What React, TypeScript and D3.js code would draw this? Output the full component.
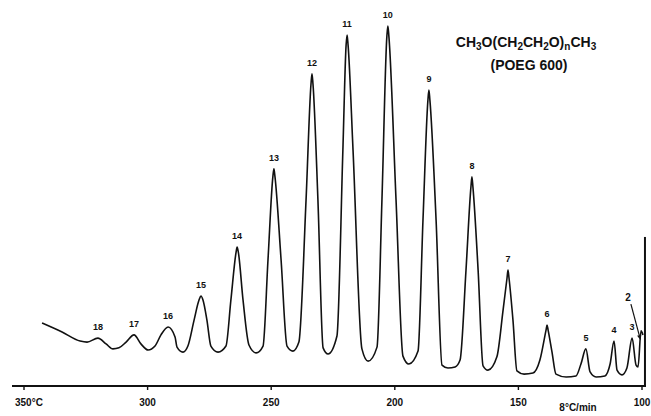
import React from "react";
import * as d3 from "d3";

const W = 651;
const H = 416;

// Chromatogram trace: column temperature (°C, programmed at 8 °C/min) and detector response
const traceTemp = [
  342.7, 334.6, 327.3, 324.5, 320.1, 316.8, 314.0, 311.6, 308.7, 305.5,
  302.7, 299.8, 297.0, 294.6, 291.7, 288.9, 288.1, 285.7, 283.7, 281.2,
  279.2, 278.4, 277.6, 276.0, 274.4, 271.5, 268.3, 266.3, 264.2, 263.8,
  263.3, 261.4, 259.0, 256.1, 253.3, 251.3, 249.3, 248.9, 248.5, 246.0,
  243.6, 241.2, 238.8, 235.9, 233.9, 233.5, 233.1, 231.1, 229.0, 227.0,
  223.4, 221.0, 219.7, 219.3, 218.9, 216.9, 213.3, 210.8, 207.2, 205.2,
  203.2, 202.8, 202.4, 199.5, 196.7, 194.3, 190.6, 188.6, 186.6, 186.2,
  185.8, 183.3, 180.9, 178.5, 175.6, 173.6, 171.2, 169.2, 168.8, 168.4,
  166.3, 164.3, 162.3, 158.7, 156.2, 154.6, 154.2, 153.8, 152.2, 150.6,
  147.7, 144.1, 141.3, 138.8, 138.4, 138.0, 136.4, 134.8, 130.7, 126.7,
  124.7, 122.7, 121.0, 118.6, 115.0, 112.9, 111.3, 110.1, 108.1, 106.1,
  104.0, 102.4, 101.6, 100.4, 99.6,
];
const traceSignal = [
  17.5, 15.0, 12.5, 12.2, 13.3, 11.7, 10.3, 10.6, 12.2, 14.2,
  11.7, 10.0, 11.1, 14.2, 16.4, 13.6, 10.8, 9.4, 11.1, 18.3,
  23.9, 25.0, 23.9, 18.3, 11.1, 9.4, 11.1, 23.9, 37.2, 38.6,
  37.2, 23.9, 11.4, 9.2, 11.1, 35.0, 58.3, 60.3, 58.3, 35.0,
  11.1, 9.7, 12.2, 51.7, 83.9, 86.7, 83.9, 51.7, 10.6, 8.9,
  13.9, 65.6, 94.7, 97.5, 94.7, 65.6, 10.3, 6.9, 10.8, 51.7,
  97.2, 100.0, 97.2, 51.7, 8.3, 6.1, 9.7, 46.1, 79.4, 82.2,
  79.4, 46.1, 5.8, 5.0, 5.3, 7.2, 32.2, 55.3, 58.1, 55.3,
  32.2, 5.6, 4.4, 8.1, 21.1, 30.0, 32.2, 30.0, 18.3, 4.2,
  3.3, 3.6, 7.2, 15.6, 16.9, 15.6, 9.4, 3.3, 2.5, 2.8,
  6.1, 10.3, 3.9, 2.5, 2.8, 6.1, 12.5, 4.4, 3.1, 5.0,
  13.3, 5.8, 5.3, 15.3, 14.2,
];

// Solvent front at the start of the run
const solventTemp = 98.8;
const solventSignal = 41.4;

// Oligomer peaks (n = number of ethylene oxide units)
const peakNumber = [18, 17, 16, 15, 14, 13, 12, 11, 10, 9, 8, 7, 6, 5, 4, 3];
const peakTemp = [320.1, 305.5, 291.7, 278.4, 263.8, 248.9, 233.5, 219.3, 202.8, 186.2, 168.8, 154.2, 138.4, 122.7, 111.3, 104.0];
const peakSignal = [13.3, 14.2, 16.4, 25.0, 38.6, 60.3, 86.7, 97.5, 100.0, 82.2, 58.1, 32.2, 16.9, 10.3, 12.5, 13.3];

// Peak n = 2 is marked with an arrow
const peak2Temp = 100.4;
const peak2Signal = 15.3;
const peak2LabelTemp = 105.7;
const peak2LabelSignal = 24.4;

const tickValues = [350, 300, 250, 200, 150, 100];

const x = d3.scaleLinear().domain([350, 100]).range([24, 642]);
const y = d3.scaleLinear().domain([0, 100]).range([386, 26]);

const font = "'Liberation Sans', Arial, sans-serif";

export default function App() {
  const pts: [number, number][] = traceTemp.map((t, i) => [t, traceSignal[i]]);
  const line = d3
    .line<[number, number]>()
    .x((d) => x(d[0]))
    .y((d) => y(d[1]))
    .curve(d3.curveMonotoneX);
  const tracePath = line(pts) || "";

  const axisY = y(0);

  // arrow pointing from the "2" label down to its peak
  const ax0 = x(peak2LabelTemp) + 3;
  const ay0 = y(peak2LabelSignal) + 6;
  const ax1 = x(peak2Temp) - 0.5;
  const ay1 = y(peak2Signal) + 9;
  const ang = Math.atan2(ay1 - ay0, ax1 - ax0);
  const headLen = 5;
  const headW = 2.2;
  const hx = ax1 - headLen * Math.cos(ang);
  const hy = ay1 - headLen * Math.sin(ang);
  const head = `M${ax1},${ay1}L${hx - headW * Math.sin(ang)},${hy + headW * Math.cos(ang)}L${hx + headW * Math.sin(ang)},${hy - headW * Math.cos(ang)}Z`;

  const sub = { fontSize: 10 };

  return (
    <svg
      width={W}
      height={H}
      viewBox={`0 0 ${W} ${H}`}
      style={{ position: "absolute", left: 0, top: 0, background: "#fff" }}
      fontFamily={font}
    >
      <rect width={W} height={H} fill="#fff" />

      {/* temperature axis */}
      <line x1={12} x2={646} y1={axisY} y2={axisY} stroke="#111" strokeWidth={2} />
      {tickValues.map((t) => (
        <line key={t} x1={x(t)} x2={x(t)} y1={axisY} y2={axisY + 4} stroke="#111" strokeWidth={1.4} />
      ))}
      {tickValues.map((t) =>
        t === 350 ? (
          <text key={t} x={x(t) - 9} y={axisY + 20} fontSize={10} fontWeight="bold" fill="#111">
            {`${t}°C`}
          </text>
        ) : (
          <text key={t} x={x(t)} y={axisY + 20} fontSize={10} fontWeight="bold" fill="#111" textAnchor="middle">
            {t}
          </text>
        )
      )}
      <text x={578} y={axisY + 25} fontSize={10} fontWeight="bold" fill="#111" textAnchor="middle">
        8°C/min
      </text>

      {/* detector trace */}
      <path d={tracePath} fill="none" stroke="#111" strokeWidth={1.6} strokeLinejoin="round" />
      <line
        x1={x(solventTemp)}
        x2={x(solventTemp)}
        y1={axisY}
        y2={y(solventSignal)}
        stroke="#111"
        strokeWidth={2}
      />

      {/* peak numbers */}
      {peakNumber.map((n, i) => (
        <text
          key={n}
          x={x(peakTemp[i])}
          y={y(peakSignal[i]) - 8}
          fontSize={9}
          fontWeight="bold"
          fill="#111"
          textAnchor="middle"
        >
          {n}
        </text>
      ))}
      <text
        x={x(peak2LabelTemp)}
        y={y(peak2LabelSignal) + 3}
        fontSize={10}
        fontWeight="bold"
        fill="#111"
        textAnchor="middle"
      >
        2
      </text>
      <line x1={ax0} y1={ay0} x2={hx} y2={hy} stroke="#111" strokeWidth={1.2} />
      <path d={head} fill="#111" />

      {/* compound */}
      <text x={526} y={47} fontSize={14} fontWeight="bold" fill="#111" textAnchor="middle">
        CH<tspan dy={3} {...sub}>3</tspan>
        <tspan dy={-3}>O(CH</tspan>
        <tspan dy={3} {...sub}>2</tspan>
        <tspan dy={-3}>CH</tspan>
        <tspan dy={3} {...sub}>2</tspan>
        <tspan dy={-3}>O)</tspan>
        <tspan dy={3} {...sub}>n</tspan>
        <tspan dy={-3}>CH</tspan>
        <tspan dy={3} {...sub}>3</tspan>
      </text>
      <text x={529} y={70} fontSize={14} fontWeight="bold" fill="#111" textAnchor="middle">
        (POEG 600)
      </text>
    </svg>
  );
}
